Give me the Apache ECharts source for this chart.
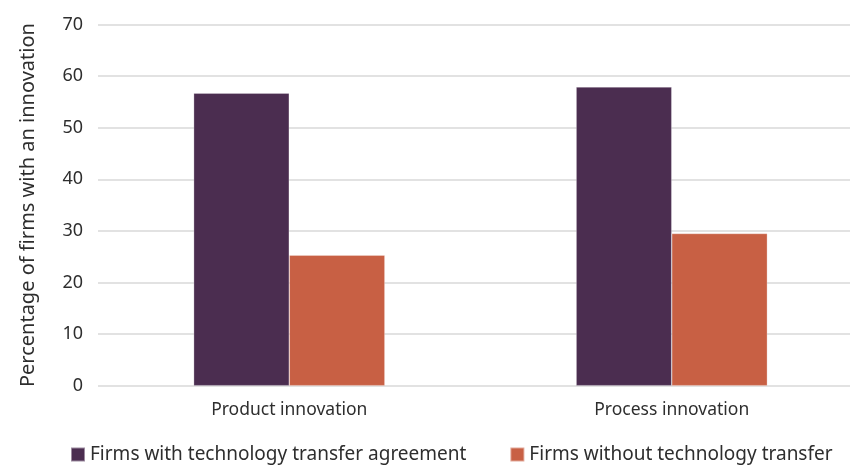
<!DOCTYPE html>
<html>
<head>
<meta charset="utf-8">
<script src="https://cdn.jsdelivr.net/npm/echarts@6/dist/echarts.min.js"></script>
<style>
  html, body { margin: 0; padding: 0; background: #ffffff; }
  #chart { width: 850px; height: 466px; }
</style>
</head>
<body>
<div id="chart"></div>
<script>
// Share of firms reporting an innovation, by technology transfer status
const categories = ['Product innovation', 'Process innovation'];
const withTransfer = [56.7, 57.9];
const withoutTransfer = [25.3, 29.5];
const seriesNames = ['Firms with technology transfer agreement', 'Firms without technology transfer'];
const yTicks = { min: 0, max: 70, interval: 10 };

const FONT = '"Noto Sans", "Open Sans", sans-serif';
const TEXT = '#2e2e2e';

const chart = echarts.init(document.getElementById('chart'), null, { renderer: 'canvas' });
chart.setOption({
  animation: false,
  backgroundColor: '#ffffff',
  textStyle: { fontFamily: FONT, color: TEXT },
  grid: { left: 98, right: -13, top: 24.5, bottom: 80.3, containLabel: false, outerBoundsMode: 'none' },
  legend: {
    left: 65,
    top: 440,
    itemWidth: 14,
    itemHeight: 14,
    itemGap: 43,
    icon: 'rect',
    textStyle: { fontFamily: FONT, fontSize: 19, color: TEXT },
    data: seriesNames
  },
  xAxis: {
    type: 'category',
    data: categories,
    axisLine: { show: false },
    axisTick: { show: false },
    axisLabel: { fontFamily: FONT, fontSize: 17.5, color: TEXT, margin: 15 }
  },
  yAxis: {
    type: 'value',
    min: yTicks.min,
    max: yTicks.max,
    interval: yTicks.interval,
    name: 'Percentage of firms with an innovation',
    nameLocation: 'middle',
    nameGap: 60,
    nameTextStyle: { fontFamily: FONT, fontSize: 20, color: TEXT },
    axisLine: { show: false },
    axisTick: { show: false },
    axisLabel: { fontFamily: FONT, fontSize: 18, color: TEXT, margin: 15 },
    splitLine: { lineStyle: { color: '#d9d9d9', width: 1.5 } }
  },
  series: [
    {
      name: seriesNames[0],
      type: 'bar',
      data: withTransfer,
      barGap: '0%',
      barCategoryGap: '50%',
      itemStyle: { color: '#4b2d50', borderColor: 'rgba(255,255,255,0.45)', borderWidth: 0.6 }
    },
    {
      name: seriesNames[1],
      type: 'bar',
      data: withoutTransfer,
      barGap: '0%',
      barCategoryGap: '50%',
      itemStyle: { color: '#c86044', borderColor: 'rgba(255,255,255,0.45)', borderWidth: 0.6 }
    }
  ]
});
</script>
</body>
</html>
